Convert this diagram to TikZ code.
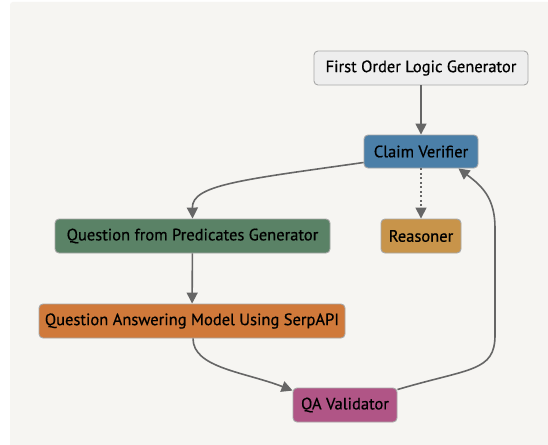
\documentclass[tikz,border=0pt]{standalone}
\usepackage{fontspec}
\setmainfont[FakeBold=0.6]{PT Sans}
\usetikzlibrary{arrows.meta,calc}
\definecolor{panel}{HTML}{F6F5F2}
\definecolor{edge}{HTML}{666666}
\definecolor{bordc}{HTML}{A8A8A8}
\definecolor{folc}{HTML}{EEEEEE}
\definecolor{cvc}{HTML}{4B7FA8}
\definecolor{qpc}{HTML}{5A8266}
\definecolor{rsc}{HTML}{C8944A}
\definecolor{qac}{HTML}{D0793A}
\definecolor{qvc}{HTML}{B05586}
\tikzset{
  box/.style={draw=bordc, line width=0.9pt, rounded corners=4pt, minimum height=34pt,
    inner sep=0pt, text=black, font=\fontsize{16.5pt}{19pt}\selectfont},
  conn/.style={draw=edge, line width=1.6pt, -{Triangle[length=11pt,width=11pt]}},
}
\begin{document}
\begin{tikzpicture}[x=1pt,y=-1pt]
\useasboundingbox (0,0) rectangle (548,444);
\fill[white] (0,0) rectangle (548,444);
\fill[panel, rounded corners=3pt] (10,2) rectangle (560,456);
\node[box, fill=folc, minimum width=214pt] (fol) at (421,68) {First Order Logic Generator};
\node[box, fill=cvc, minimum width=114pt, minimum height=33pt] (cv) at (421,151.5) {Claim Verifier};
\node[box, fill=qpc, minimum width=275pt] (qp) at (192.5,236) {Question from Predicates Generator};
\node[box, fill=rsc, minimum width=80pt] (rs) at (421,236) {Reasoner};
\node[box, fill=qac, minimum width=306pt] (qa) at (192,321) {Question Answering Model Using SerpAPI};
\node[box, fill=qvc, minimum width=104pt] (qv) at (345,405) {QA Validator};
\draw[conn] (fol) -- (cv);
\draw[conn, dash pattern=on 2pt off 2.5pt] (cv) -- (rs);
\draw[conn] ($(cv.west)+(0,11)$) .. controls (240,180) and (192,185) .. (qp.north);
\draw[conn] (qp) -- (qa);
\draw[conn] ($(qa.south)+(1,0)$) .. controls (193,368) and (245,372) .. ($(qv.north west)+(0,3)$);
\draw[conn] ($(qv.north east)+(0,2)$) .. controls (470,368) and (495,372) .. (495,335) -- (495,228)
  .. controls (495,198) and (482,186) .. ($(cv.south east)+(-20,0)$);
\end{tikzpicture}
\end{document}
